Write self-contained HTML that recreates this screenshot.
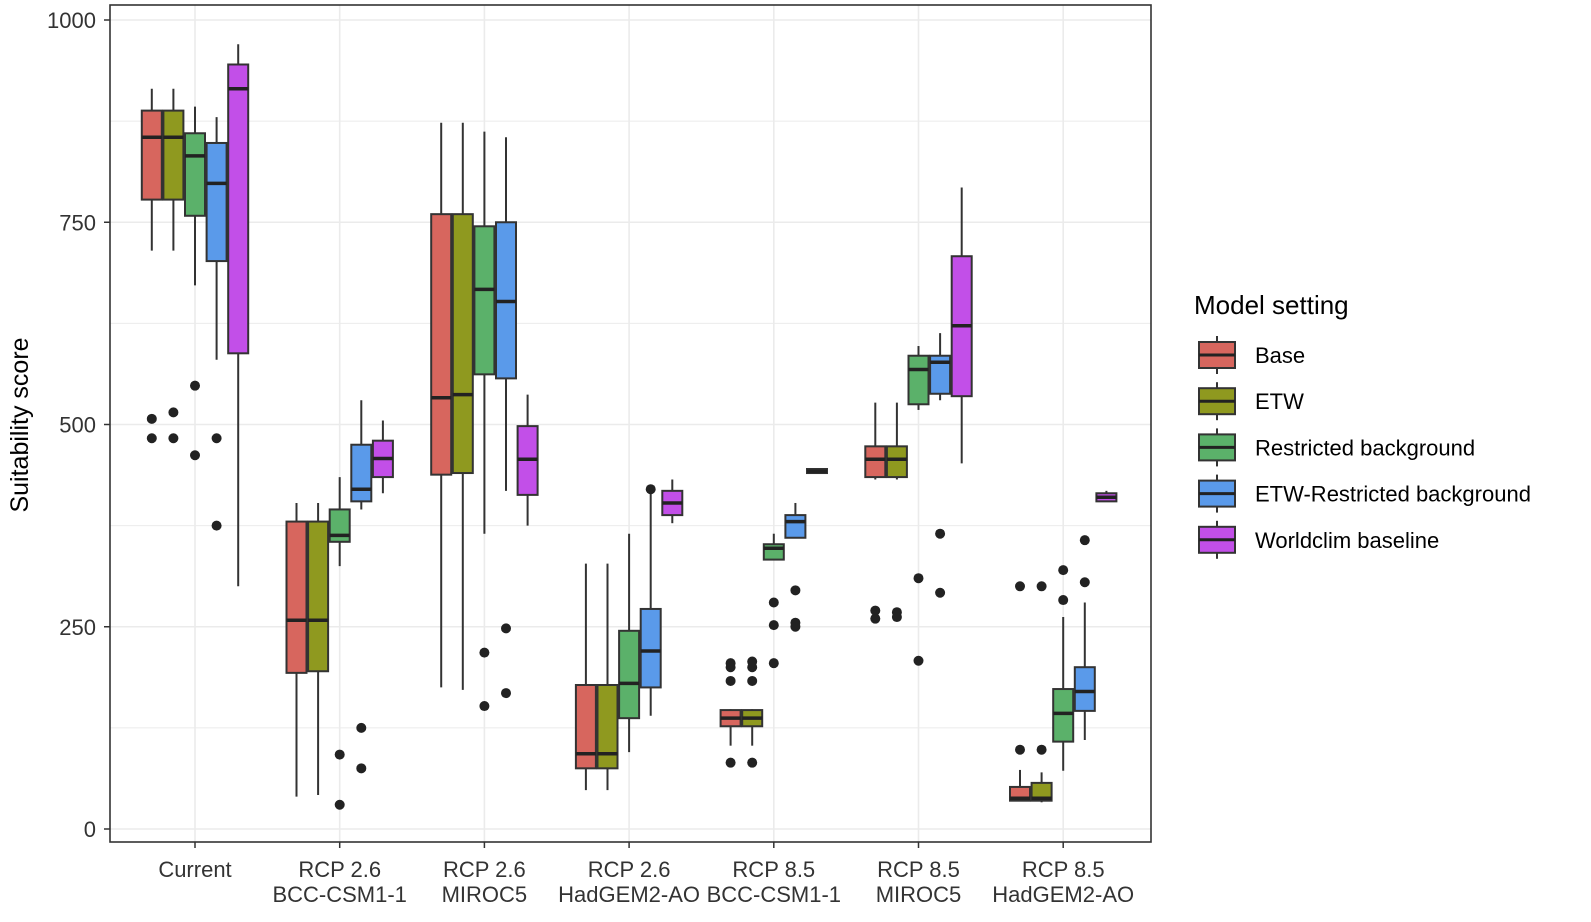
<!DOCTYPE html>
<html><head><meta charset="utf-8"><style>
body{margin:0;background:#fff;}
svg{display:block;font-family:"Liberation Sans",Arial,sans-serif;}
</style></head><body>
<svg id="chart" width="1591" height="922" viewBox="0 0 1591 922" xmlns="http://www.w3.org/2000/svg">
<g id="grid"></g>
<g id="marks"></g>
<rect x="110" y="5" width="1041" height="837" fill="none" stroke="#333" stroke-width="1.6"/>
<g id="axes"></g>
<text transform="translate(28,425) rotate(-90)" text-anchor="middle" font-size="25" fill="#000">Suitability score</text>
<g id="legend">
<text x="1194" y="314" font-size="26" fill="#000">Model setting</text>
</g>
</svg>
<script>
const groups=[["Current",""],["RCP 2.6","BCC-CSM1-1"],["RCP 2.6","MIROC5"],["RCP 2.6","HadGEM2-AO"],["RCP 8.5","BCC-CSM1-1"],["RCP 8.5","MIROC5"],["RCP 8.5","HadGEM2-AO"]];
const series=["Base","ETW","Restricted background","ETW-Restricted background","Worldclim baseline"];
const colors=["#d7665e","#8f991f","#5bb16a","#5a9aea","#c24fe8"];
const yTicks=[0,250,500,750,1000];
// each: [whiskerLow, q1, median, q3, whiskerHigh, outliers]
const baseData=[[715,778,855,888,915,[507,483]],[40,193,258,380,403,[]],[175,438,533,760,873,[]],[48,75,93,178,328,[]],[103,127,137,147,148,[205,200,183,82]],[432,435,457,473,527,[270,260]],[35,35,38,52,73,[300,98]]];
const etwData=[[715,778,855,888,915,[515,483]],[42,195,258,380,403,[]],[172,440,537,760,873,[]],[48,75,93,178,328,[]],[103,127,137,147,148,[207,200,183,82]],[432,435,457,473,527,[268,262]],[33,35,38,57,70,[300,98]]];
const restrictedData=[[672,758,832,860,893,[548,462]],[325,355,363,395,435,[92,30]],[365,562,667,745,862,[218,152]],[95,137,180,245,365,[]],[333,333,347,352,365,[280,252,205]],[518,525,568,585,597,[310,208]],[72,108,143,173,262,[320,283]]];
const etwRestrictedData=[[580,702,798,848,880,[483,375]],[395,405,420,475,530,[125,75]],[418,557,652,750,855,[248,168]],[140,175,220,272,420,[420]],[360,360,380,388,403,[295,255,250]],[530,538,577,585,613,[365,292]],[110,146,170,200,280,[357,305]]];
const worldclimData=[[300,588,915,945,970,[]],[415,435,458,480,505,[]],[375,413,457,498,537,[]],[378,388,403,418,432,[]],[440,440,442,445,445,[]],[452,535,622,708,793,[]],[405,405,410,415,418,[]]];
const allData=[baseData,etwData,restrictedData,etwRestrictedData,worldclimData];

const NS="http://www.w3.org/2000/svg";
const X0=110,X1=1151,Y0=829,Y1000=20;
const y=v=>Y0-(v/1000)*(Y0-Y1000);
const gx=i=>195+i*144.7;
const bx=(i,s)=>gx(i)+(s-2)*21.6;
const BW=20;
function mk(tag,attrs,parent){const e=document.createElementNS(NS,tag);for(const k in attrs)e.setAttribute(k,attrs[k]);parent.appendChild(e);return e;}
const grid=document.getElementById('grid'),marks=document.getElementById('marks'),axes=document.getElementById('axes'),legend=document.getElementById('legend');
for(let v=0;v<=1000;v+=125){const l=mk('line',{x1:X0,x2:X1,y1:y(v),y2:y(v),stroke:'#ebebeb','stroke-width':v%250===0?1.6:1},grid);

}
groups.forEach((g,i)=>{const l=mk('line',{x1:gx(i),x2:gx(i),y1:5,y2:842,stroke:'#ebebeb','stroke-width':1.6},grid);


const t=mk('line',{x1:gx(i),x2:gx(i),y1:842,y2:848,stroke:'#333','stroke-width':1.5},axes);


const tx=mk('text',{x:gx(i),y:877,'text-anchor':'middle','font-size':22,fill:'#333'},axes);


tx.textContent=g[0];
if(g[1]){const t2=mk('text',{x:gx(i),y:902,'text-anchor':'middle','font-size':22,fill:'#333'},axes);


t2.textContent=g[1];}});
yTicks.forEach(v=>{const t=mk('line',{x1:104,x2:110,y1:y(v),y2:y(v),stroke:'#333','stroke-width':1.5},axes);


const tx=mk('text',{x:96,y:y(v)+8,'text-anchor':'end','font-size':22,fill:'#333'},axes);


tx.textContent=v;});
allData.forEach((arr,s)=>{arr.forEach((d,i)=>{const cx=bx(i,s);const g=mk('g',{},marks);


mk('line',{x1:cx,x2:cx,y1:y(d[0]),y2:y(d[4]),stroke:'#333','stroke-width':2},g);
mk('rect',{x:cx-BW/2,y:y(d[3]),width:BW,height:Math.max(1,y(d[1])-y(d[3])),fill:colors[s],stroke:'#333','stroke-width':2},g);
mk('line',{x1:cx-BW/2,x2:cx+BW/2,y1:y(d[2]),y2:y(d[2]),stroke:'#222','stroke-width':3.5},g);
d[5].forEach(o=>{const c=mk('circle',{cx:cx,cy:y(o),r:5,fill:'#222'},g);

});});});
series.forEach((name,s)=>{const yc=355+s*46.2;const g=mk('g',{},legend);


mk('line',{x1:1217,x2:1217,y1:yc-19,y2:yc+19,stroke:'#333','stroke-width':2},g);
mk('rect',{x:1199,y:yc-13,width:36,height:26,fill:colors[s],stroke:'#333','stroke-width':2},g);
mk('line',{x1:1199,x2:1235,y1:yc,y2:yc,stroke:'#222','stroke-width':3},g);
const t=mk('text',{x:1255,y:yc+8,'font-size':22,fill:'#000'},g);


t.textContent=name;});
</script>
</body></html>
